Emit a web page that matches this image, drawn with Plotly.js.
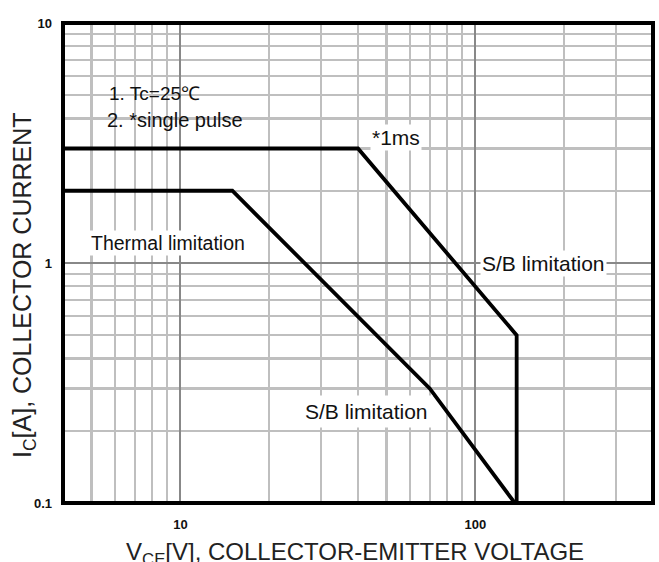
<!DOCTYPE html>
<html>
<head>
<meta charset="utf-8">
<script src="https://cdn.plot.ly/plotly-3.0.1.min.js"></script>
<style>
  html, body { margin: 0; padding: 0; background: #fff; }
  #chart { width: 659px; height: 562px; }
</style>
</head>
<body>
<div id="chart"></div>
<script>
// ---- data ----
const dcVoltage    = [4, 15, 70, 136];
const dcCurrent    = [2, 2, 0.3, 0.1];
const pulseVoltage = [4, 40, 138, 138];
const pulseCurrent = [3, 3, 0.5, 0.1];

const xMajorTicks = [10, 100];
const xMajorText  = ['10', '100'];
const xMinorTicks = [5, 6, 7, 8, 9, 20, 30, 40, 50, 60, 70, 80, 90, 200, 300];
const yMajorTicks = [0.1, 1, 10];
const yMajorText  = ['0.1', '1', '10'];
const yMinorTicks = [0.2, 0.3, 0.4, 0.5, 0.6, 0.7, 0.8, 0.9, 2, 3, 4, 5, 6, 7, 8, 9];

const xRange = [4, 400];
const yRange = [0.1, 10];

// ---- chart ----
const FONT = 'Liberation Sans, Arial, Helvetica, sans-serif';
const lineStyle = {color: '#000', width: 3.8};

const traces = [
  {x: dcVoltage, y: dcCurrent, type: 'scatter', mode: 'lines', line: lineStyle, hoverinfo: 'skip'},
  {x: pulseVoltage, y: pulseCurrent, type: 'scatter', mode: 'lines', line: lineStyle, hoverinfo: 'skip'}
];

function lf(size) { return {family: FONT, size: size, color: '#111'}; }
const layout = {
  width: 659, height: 562,
  margin: {l: 63, r: 6, t: 23, b: 59, pad: 0},
  paper_bgcolor: '#fff', plot_bgcolor: '#fff',
  showlegend: false,
  font: {family: FONT, color: '#111'},
  xaxis: {
    type: 'log', range: xRange.map(Math.log10),
    tickmode: 'array', tickvals: xMajorTicks, ticktext: xMajorText,
    showgrid: true, gridcolor: '#888888', gridwidth: 2.2,
    minor: {tickmode: 'array', tickvals: xMinorTicks, showgrid: true, gridcolor: '#bfbfbf', gridwidth: 2.2, ticks: ''},
    ticks: '', showline: false, zeroline: false,
    tickfont: {family: FONT, size: 13, color: '#111', weight: 'bold'},
    ticklabelstandoff: 12
  },
  yaxis: {
    type: 'log', range: yRange.map(Math.log10),
    tickmode: 'array', tickvals: yMajorTicks, ticktext: yMajorText,
    showgrid: true, gridcolor: '#888888', gridwidth: 2.2,
    minor: {tickmode: 'array', tickvals: yMinorTicks, showgrid: true, gridcolor: '#bfbfbf', gridwidth: 2.2, ticks: ''},
    ticks: '', showline: false, zeroline: false,
    tickfont: {family: FONT, size: 13, color: '#111', weight: 'bold'},
    ticklabelstandoff: 10
  },
  shapes: [
    {type: 'rect', xref: 'paper', yref: 'paper', x0: 0, x1: 1, y0: 0, y1: 1,
     line: {color: '#000', width: 4}, fillcolor: 'rgba(0,0,0,0)', layer: 'above'}
  ],
  annotations: [
    {text: '1. Tc=25℃', xref: 'paper', yref: 'paper', x: 0.0746, y: 0.854,
     xanchor: 'left', yanchor: 'middle', showarrow: false, font: lf(19)},
    {text: '2. *single pulse', xref: 'paper', yref: 'paper', x: 0.071, y: 0.798,
     xanchor: 'left', yanchor: 'middle', showarrow: false, font: lf(20)},
    {text: '*1ms', xref: 'paper', yref: 'paper', x: 0.565, y: 0.7625,
     xanchor: 'center', yanchor: 'middle', showarrow: false, font: lf(21), bgcolor: '#fff', borderpad: 1},
    {text: 'Thermal limitation', xref: 'paper', yref: 'paper', x: 0.178, y: 0.5417,
     xanchor: 'center', yanchor: 'middle', showarrow: false, font: lf(19.5), bgcolor: '#fff', borderpad: 1},
    {text: 'S/B limitation', xref: 'paper', yref: 'paper', x: 0.815, y: 0.499,
     xanchor: 'center', yanchor: 'middle', showarrow: false, font: lf(21), bgcolor: '#fff', borderpad: 1},
    {text: 'S/B limitation', xref: 'paper', yref: 'paper', x: 0.5136, y: 0.19,
     xanchor: 'center', yanchor: 'middle', showarrow: false, font: lf(21), bgcolor: '#fff', borderpad: 4},
    {text: 'V<sub>CE</sub>[V], COLLECTOR-EMITTER VOLTAGE', xref: 'paper', yref: 'paper',
     x: (355 - 63) / 590, y: (503 - 553) / 480, xanchor: 'center', yanchor: 'middle',
     showarrow: false, font: {family: FONT, size: 24, color: '#222'}},
    {text: 'I<sub>C</sub>[A], COLLECTOR CURRENT', xref: 'paper', yref: 'paper',
     x: (24 - 63) / 590, y: (503 - 285) / 480, xanchor: 'center', yanchor: 'middle', textangle: -90,
     showarrow: false, font: {family: FONT, size: 25, color: '#222'}}
  ]
};

Plotly.newPlot('chart', traces, layout, {staticPlot: true, displayModeBar: false});
</script>
</body>
</html>
